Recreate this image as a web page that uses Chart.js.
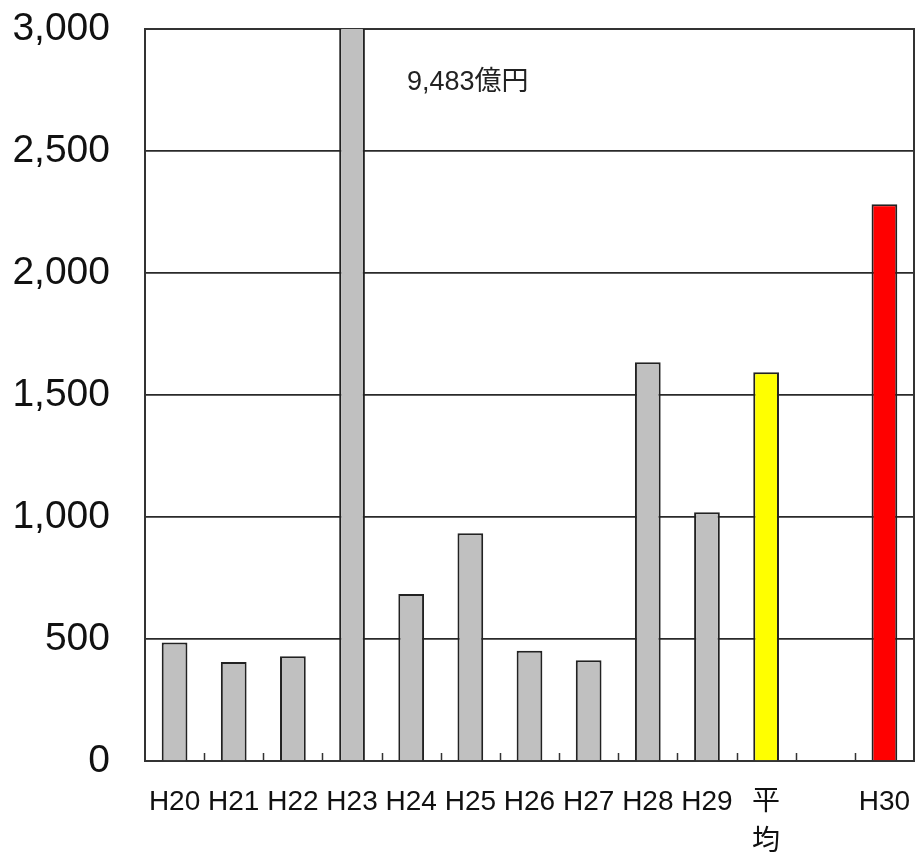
<!DOCTYPE html>
<html>
<head>
<meta charset="utf-8">
<script src="https://cdn.jsdelivr.net/npm/chart.js@4"></script>
<style>
  html, body { margin: 0; padding: 0; background: #fff; }
  #wrap { width: 915px; height: 856px; }
</style>
</head>
<body>
<div id="wrap"><canvas id="costChart"></canvas></div>
<script>
const categories = ["H20", "H21", "H22", "H23", "H24", "H25", "H26", "H27", "H28", "H29", ["平", "均"], "", "H30"];
const amounts = [486, 406, 429, 9483, 684, 933, 452, 413, 1634, 1019, 1593, null, 2282];
const barColors = ["#c0c0c0", "#c0c0c0", "#c0c0c0", "#c0c0c0", "#c0c0c0", "#c0c0c0", "#c0c0c0",
  "#c0c0c0", "#c0c0c0", "#c0c0c0", "#ffff00", "#c0c0c0", "#ff0000"];
const yTicks = [0, 500, 1000, 1500, 2000, 2500, 3000];
const noteText = "9,483億円";
const noteIndex = 3;

const fontFamily = "'Liberation Sans', Arial, 'Noto Sans CJK JP', sans-serif";

// frame around the plot + small inward ticks on the x axis
const framePlugin = {
  id: "frame",
  beforeDatasetsDraw(chart) {
    const { ctx, chartArea } = chart;
    ctx.save();
    ctx.strokeStyle = "#333";
    ctx.lineWidth = 2;
    ctx.strokeRect(chartArea.left, chartArea.top, chartArea.right - chartArea.left, chartArea.bottom - chartArea.top);
    const x = chart.scales.x;
    const step = x.width / categories.length;
    ctx.lineWidth = 1.5;
    ctx.beginPath();
    for (let i = 1; i < categories.length; i++) {
      const px = Math.round(x.getPixelForValue(i) - step / 2) + 0.5;
      ctx.moveTo(px, chartArea.bottom);
      ctx.lineTo(px, chartArea.bottom - 8);
    }
    ctx.stroke();
    ctx.restore();
  },
  afterDatasetsDraw(chart) {
    const { ctx } = chart;
    const x = chart.scales.x.getPixelForValue(noteIndex) + 55;
    const y = chart.scales.y.getPixelForValue(2780);
    ctx.save();
    ctx.font = "27px " + fontFamily;
    ctx.fillStyle = "#222";
    ctx.textAlign = "left";
    ctx.textBaseline = "middle";
    ctx.fillText(noteText, x, y);
    ctx.restore();
  }
};

new Chart(document.getElementById("costChart").getContext("2d"), {
  type: "bar",
  data: {
    labels: categories,
    datasets: [
      {
        data: amounts,
        backgroundColor: barColors,
        borderColor: "#222",
        borderWidth: 2,
        barPercentage: 0.435,
        categoryPercentage: 1,
        clip: 0
      }
    ]
  },
  options: {
    responsive: true,
    maintainAspectRatio: false,
    animation: false,
    layout: { padding: { top: 29, right: 1, left: 0, bottom: 0 } },
    plugins: {
      legend: { display: false },
      tooltip: { enabled: false }
    },
    scales: {
      x: {
        grid: { display: false },
        border: { display: false },
        ticks: {
          color: "#111",
          padding: 14,
          maxRotation: 0,
          autoSkip: false,
          font: { family: fontFamily, size: 28, lineHeight: 1.4 }
        },
        afterFit(scale) {
          scale.height = 95;
          scale.paddingLeft = 0;
          scale.paddingRight = 0;
        }
      },
      y: {
        min: 0,
        max: 3000,
        afterBuildTicks(scale) { scale.ticks = yTicks.map(v => ({ value: v })); },
        grid: { color: "#2a2a2a", lineWidth: 1.7, drawTicks: false },
        border: { display: false },
        ticks: {
          color: "#111",
          padding: 35,
          font: { family: fontFamily, size: 39 },
          callback: v => v.toLocaleString("en-US")
        },
        afterFit(scale) {
          scale.width = 145;
          scale.paddingTop = 0;
          scale.paddingBottom = 0;
        }
      }
    }
  },
  plugins: [framePlugin]
});
</script>
</body>
</html>
